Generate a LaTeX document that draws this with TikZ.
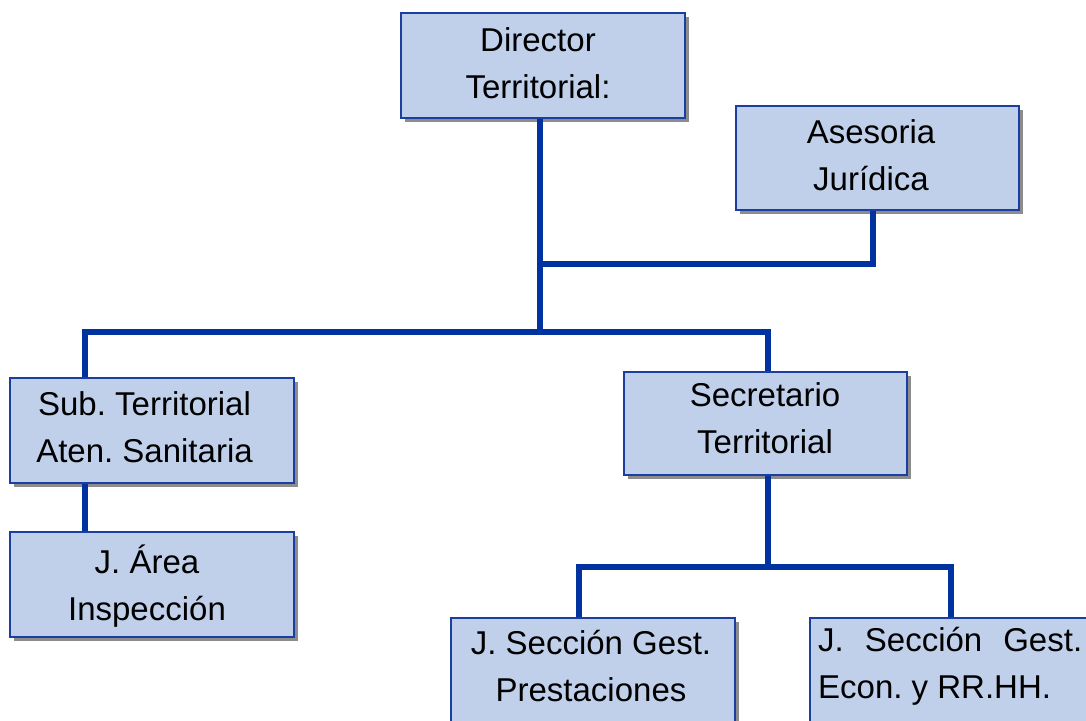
\documentclass[tikz,border=0pt]{standalone}
\usepackage{fontspec}
\setmainfont{Liberation Sans}
\frenchspacing
\usetikzlibrary{shadows}
\definecolor{boxfill}{HTML}{C0CFEA}
\definecolor{boxline}{HTML}{1A3FA0}
\definecolor{conn}{HTML}{0033A0}
\definecolor{shgray}{HTML}{8C8C8C}
\tikzset{
  orgbox/.style={draw=boxline, line width=2pt, fill=boxfill, inner sep=0pt,
    copy shadow={shadow xshift=4pt, shadow yshift=-4pt, fill=shgray, draw=none}},
  orgtext/.style={inner sep=0pt, align=center, font=\fontsize{33}{47}\selectfont\frenchspacing, text=black},
  link/.style={draw=conn, line width=6pt}
}
\begin{document}
\begin{tikzpicture}[x=1pt,y=-1pt]
\clip (0,0) rectangle (1086,720);
\fill[white] (0,0) rectangle (1086,720);
\coordinate (busA) at (540,264);
\coordinate (busTop) at (540,332);
\coordinate (busL) at (85,332);
\coordinate (busR) at (768,332);
\coordinate (busB) at (768,567);
\coordinate (busBL) at (579,567);
\coordinate (busBR) at (951,567);
\coordinate (aseX) at (873,0);
% boxes
\node[orgbox, minimum width=284pt, minimum height=105pt] (dir) at (543,65.5) {};
\node[orgbox, minimum width=283pt, minimum height=104pt] (ase) at (877.5,158) {};
\node[orgbox, minimum width=284pt, minimum height=105pt] (sub) at (152,430.5) {};
\node[orgbox, minimum width=284pt, minimum height=105pt] (area) at (152,584.5) {};
\node[orgbox, minimum width=283pt, minimum height=103pt] (sec) at (765.5,423.5) {};
\node[orgbox, minimum width=284pt, minimum height=105pt] (pre) at (593,670.5) {};
\node[orgbox, minimum width=284pt, minimum height=105pt] (eco) at (952,670.5) {};
% connectors
\draw[link] (dir.south -| busTop) -- (busTop);
\draw[link] (ase.south -| aseX) |- (busA);
\draw[link, line cap=rect] (busL) -- (busR);
\draw[link] (busL) -- (busL |- sub.north);
\draw[link] (busR) -- (busR |- sec.north);
\draw[link] (busL |- sub.south) -- (busL |- area.north);
\draw[link] (busB |- sec.south) -- (busB);
\draw[link, line cap=rect] (busBL) -- (busBR);
\draw[link] (busBL) -- (busBL |- pre.north);
\draw[link] (busBR) -- (busBR |- eco.north);
% texts
\node[orgtext] (dirT) at (538,63) {Director\\Territorial:};
\node[orgtext] (aseT) at (871,155) {Asesoria\\Jurídica};
\node[orgtext] (subT) at (144.5,427.5) {Sub. Territorial\\Aten. Sanitaria};
\node[orgtext] (areaT) at (147,586) {J. Área\\Inspección};
\node[orgtext] (secT) at (765,418.5) {Secretario\\Territorial};
\node[orgtext] (preT) at (591,666) {J. Sección Gest.\\Prestaciones};
\node[orgtext, align=left, anchor=west] (ecoT) at (818,666) {\makebox[264pt][s]{J.\hfill Sección\hfill Gest.}\\Econ. y RR.HH.};
\end{tikzpicture}
\end{document}
